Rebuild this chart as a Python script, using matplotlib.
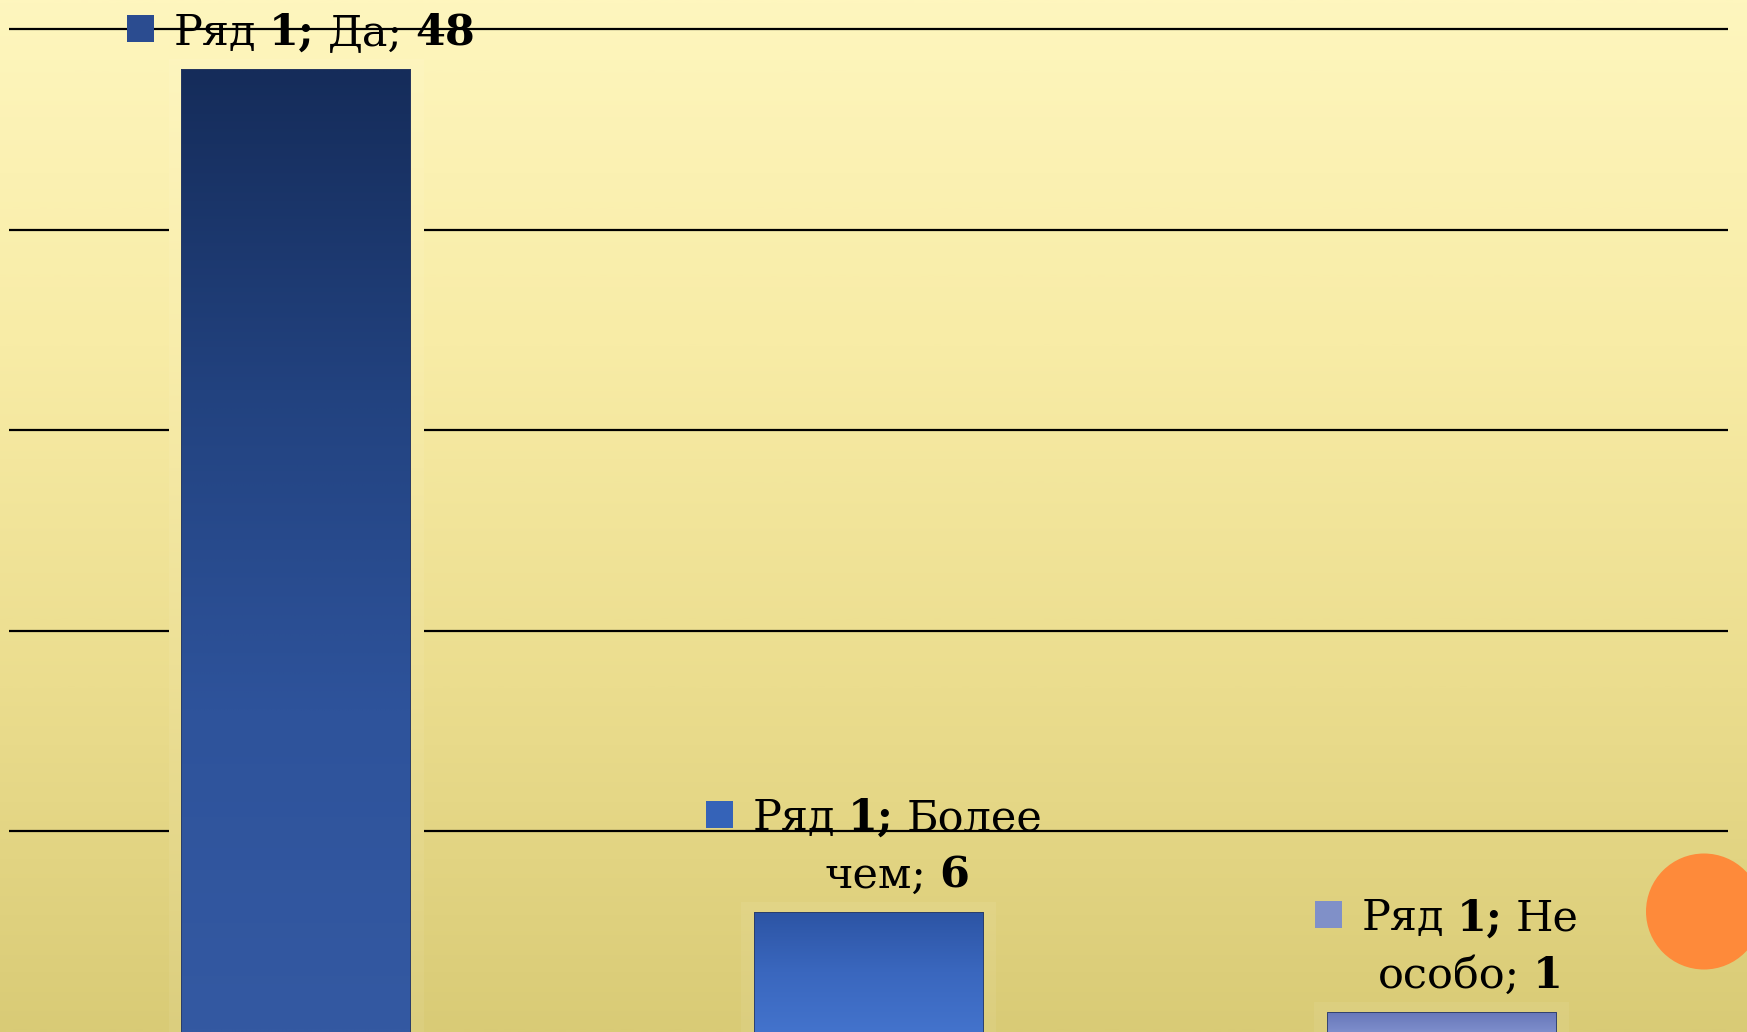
import numpy as np
import matplotlib
matplotlib.use("Agg")
import matplotlib.pyplot as plt
from matplotlib.colors import LinearSegmentedColormap, to_rgb
from matplotlib.offsetbox import TextArea, HPacker, VPacker, DrawingArea, AnnotationBbox
from matplotlib.patches import Rectangle, Ellipse

# ---- data ----
series_name = "Ряд 1"
categories = ["Да", "Более чем", "Не особо"]
values = [48, 6, 1]
grid_values = [10, 20, 30, 40, 50]

# ---- style ----
W, H = 1747, 1032
bar_grads = [
    ['#152C5A', '#22427F', '#2E539B', '#3459A2'],
    ['#2C54A4', '#3A67BE', '#4373CC'],
    ['#6676B8', '#7E8ECC'],
]
square_colors = ['#2B4C90', '#3563B8', '#8090C8']
fs = 31
fam = 'DejaVu Serif'

fig = plt.figure(figsize=(W / 100, H / 100), dpi=100)
ax = fig.add_axes([0, 0, 1, 1])
ax.set_xlim(-0.5165, 2.534)
ax.set_ylim(0, 51.45)
ax.axis('off')

# background gradient
bg_cols = ['#FEF6BE', '#F8ECA6', '#EBDD8E', '#D9CB76']
bg_cmap = LinearSegmentedColormap.from_list('bg', bg_cols)
grad = np.linspace(0, 1, 512).reshape(-1, 1)
ax.imshow(grad, cmap=bg_cmap, extent=[0, 1, 0, 1], transform=ax.transAxes,
          aspect='auto', zorder=0, origin='upper', interpolation='bilinear')

# gridlines
ax.hlines(grid_values, -0.5, 2.5, color='black', lw=1.6, zorder=1)

x = np.arange(len(categories))
bw = 0.4

# soft halo behind bars (hides gridlines near bars)
light_cols = [tuple(0.94 * np.array(to_rgb(c)) + 0.06) for c in bg_cols]
light_cmap = LinearSegmentedColormap.from_list('light', light_cols)
for xi, v in zip(x, values):
    halo = Rectangle((xi - bw / 2 - 0.022, 0), bw + 0.044, v + 0.5,
                     facecolor='none', edgecolor='none', zorder=2)
    ax.add_patch(halo)
    im = ax.imshow(grad, cmap=light_cmap, extent=[0, 1, 0, 1], transform=ax.transAxes,
                   aspect='auto', zorder=2, origin='upper', interpolation='bilinear')
    im.set_clip_path(halo)

bars = ax.bar(x, values, width=bw, color='none', edgecolor='#2A3A60', lw=0.6, zorder=4)
for b, cols in zip(bars, bar_grads):
    cmap = LinearSegmentedColormap.from_list('b', cols)
    x0, y0 = b.get_x(), b.get_y()
    im = ax.imshow(grad, cmap=cmap, extent=[x0, x0 + b.get_width(), y0, y0 + b.get_height()],
                   aspect='auto', zorder=3, origin='upper', interpolation='bilinear')
    im.set_clip_path(b)


def ta(s, bold=False):
    return TextArea(s, textprops=dict(fontsize=fs, family=fam,
                                      fontweight='bold' if bold else 'normal', color='black'))


sp = 0.3 * fs
sq = 19.4
name_word, name_num = series_name.split()
for xi, v, cat, sc in zip(x, values, categories, square_colors):
    words = cat.split()
    if len(words) == 1:
        line1 = HPacker(children=[ta(name_word), ta(name_num + ';', True), ta(words[0] + ';'),
                                  ta(str(v), True)], sep=sp, pad=0, align='baseline')
        lines = [line1]
    else:
        line1 = HPacker(children=[ta(name_word), ta(name_num + ';', True), ta(words[0])],
                        sep=sp, pad=0, align='baseline')
        line2 = HPacker(children=[ta(words[1] + ';'), ta(str(v), True)],
                        sep=sp, pad=0, align='baseline')
        lines = [line1, line2]
    block = VPacker(children=lines, sep=11, pad=0, align='center')
    da = DrawingArea(sq, sq + 2.5, 0, 0)
    da.add_artist(Rectangle((0, 0), sq, sq, facecolor=sc, edgecolor='none'))
    box = HPacker(children=[da, block], sep=14, pad=0, align='top')
    ab = AnnotationBbox(box, (xi, v), xybox=(4, 11), xycoords='data',
                        boxcoords='offset points', box_alignment=(0.5, 0),
                        frameon=False, pad=0, zorder=6)
    ax.add_artist(ab)

# decorative orange circle
circ = Ellipse((1704 / W, 1 - 911.5 / H), 2 * 58 / W, 2 * 58 / H,
               transform=fig.transFigure, facecolor='#FE8A3A', edgecolor='none', zorder=10)
fig.add_artist(circ)

fig.savefig('out.png', dpi=100)
